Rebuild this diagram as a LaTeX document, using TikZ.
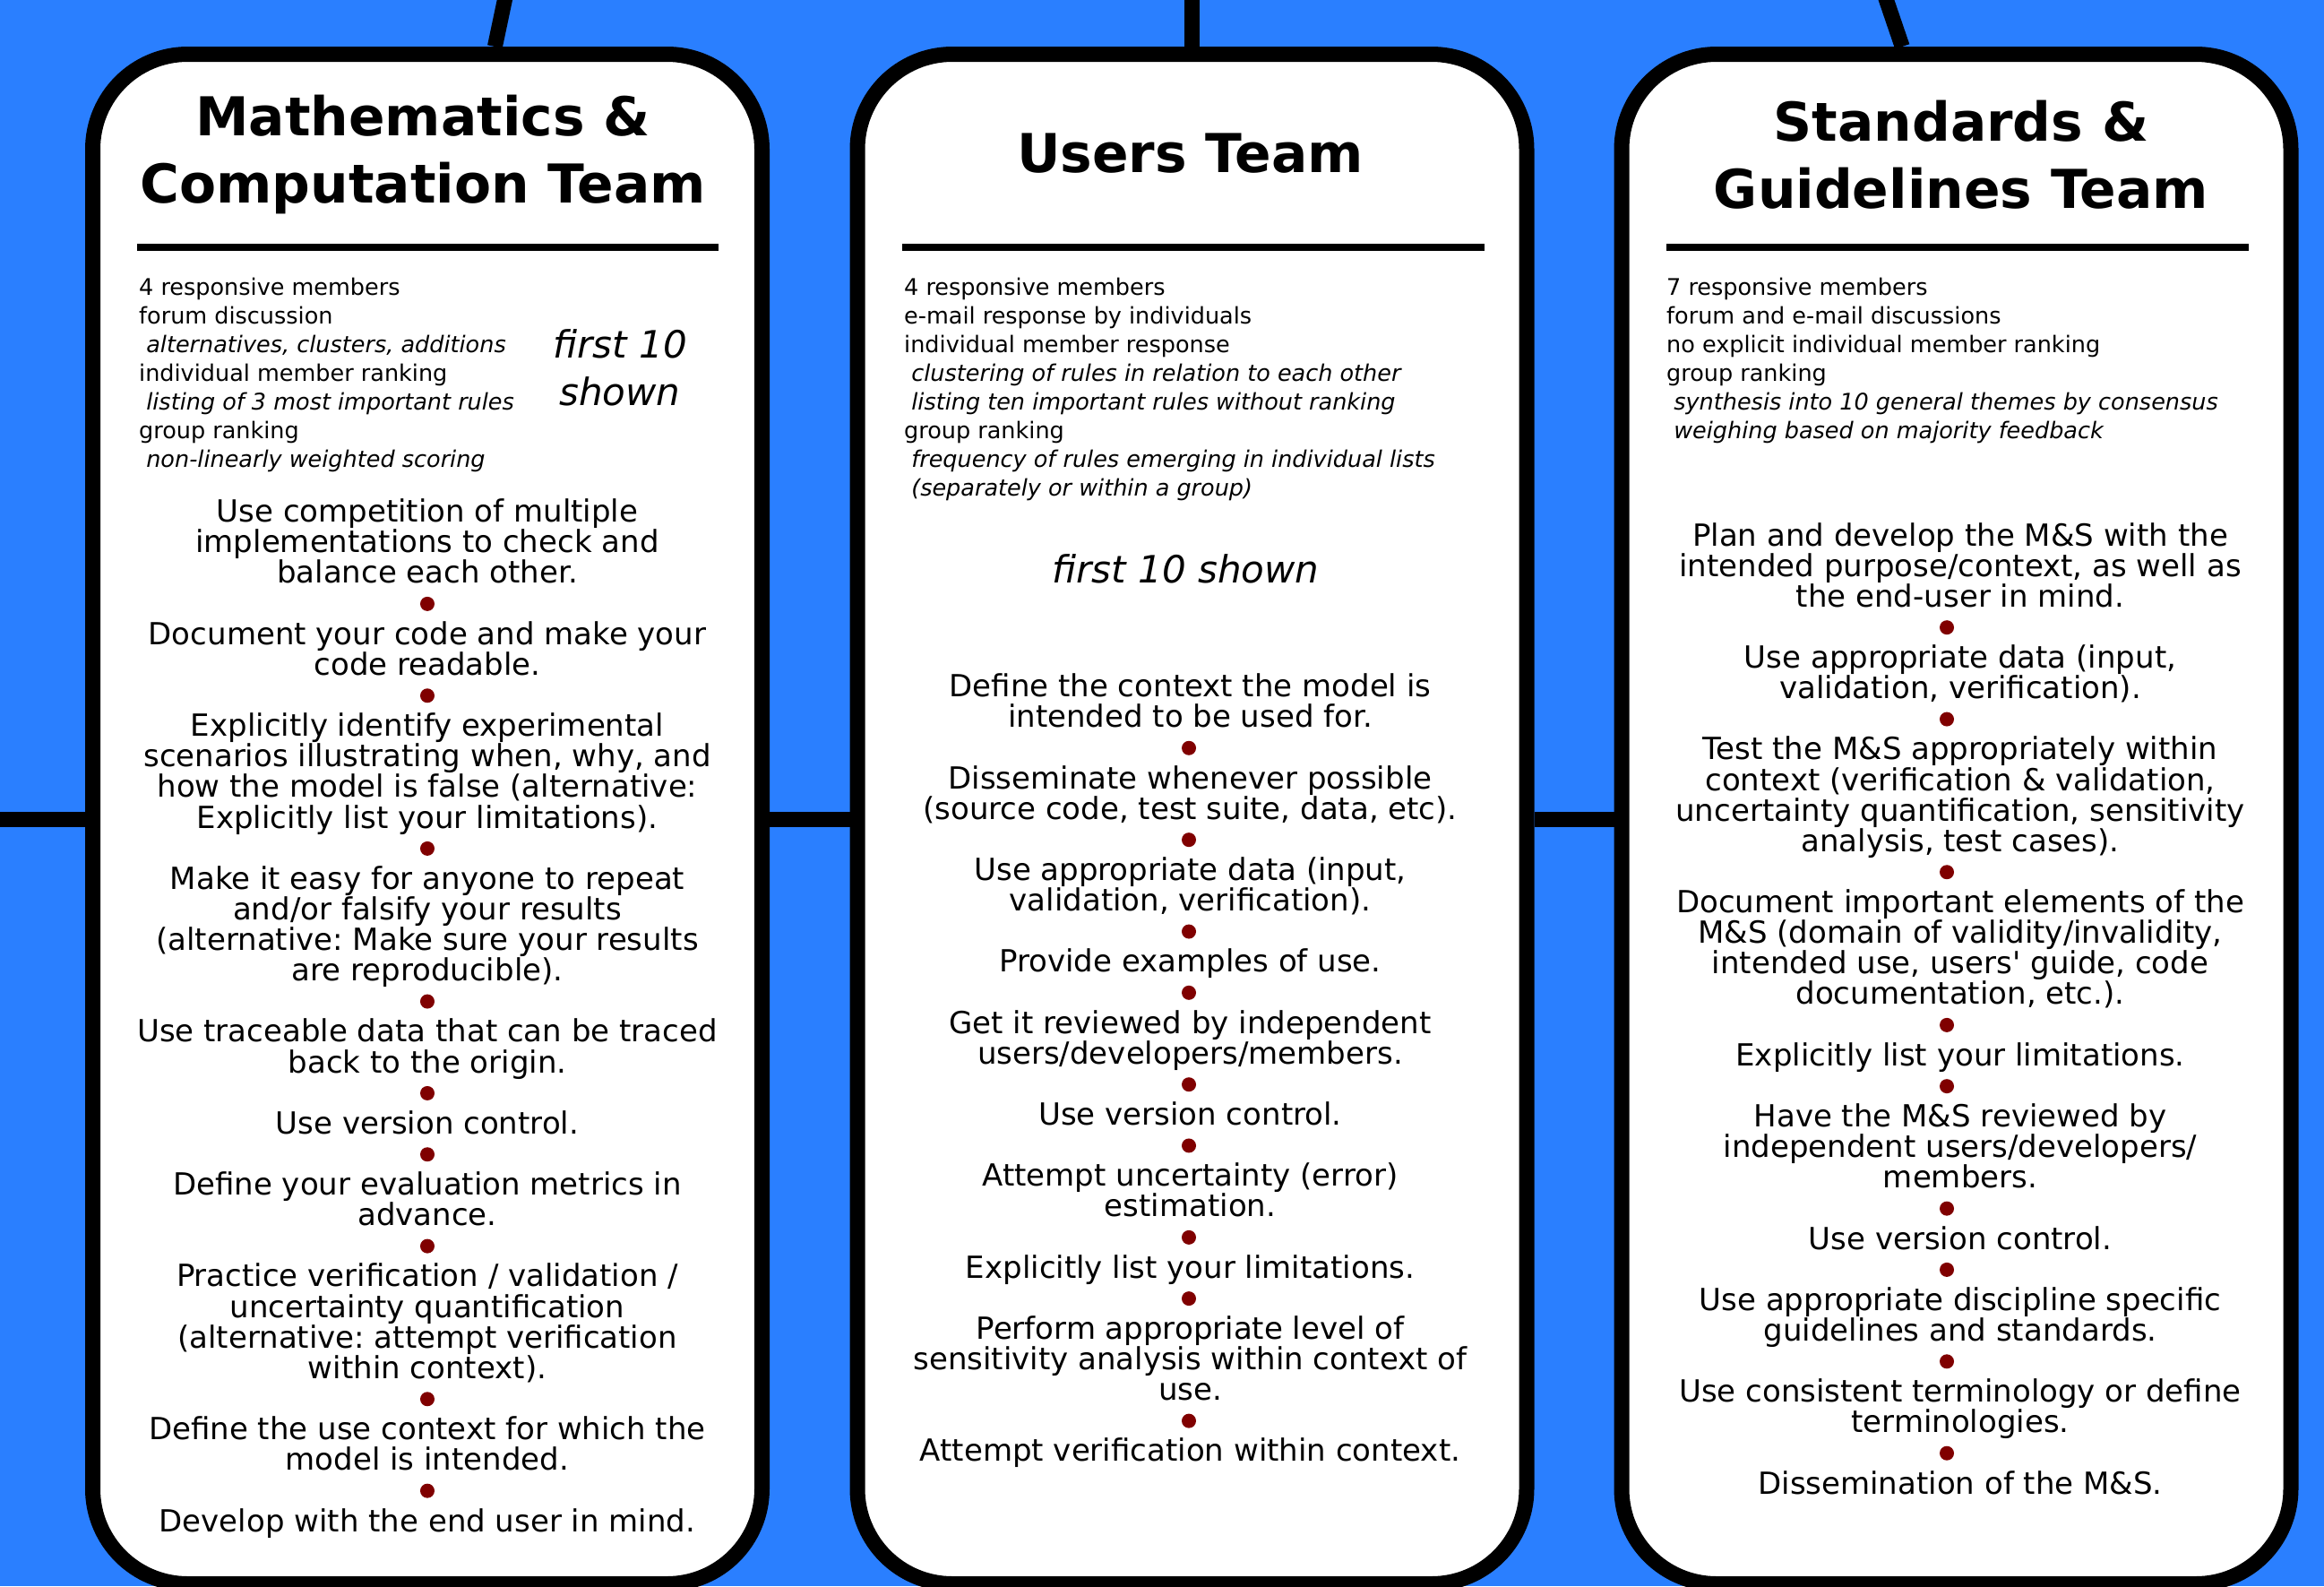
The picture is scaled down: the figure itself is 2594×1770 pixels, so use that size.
\documentclass[tikz,border=0pt]{standalone}
\usepackage{fontspec}
\setmainfont{DejaVu Sans}
\frenchspacing
\definecolor{bgblue}{HTML}{2A7FFF}
\definecolor{dotred}{HTML}{800000}
\newcommand\ist{\rule{0pt}{32pt}}
\newcommand\tst{\rule{0pt}{56pt}}
\newcommand\sst{\rule{0pt}{24pt}}
\newcommand\fst{\rule{0pt}{40pt}}
\newcommand\ind{\hspace*{0.318em}}
\def\Pa{582.5}
\def\Pb{777.5}
\def\Pc{608.8}
\def\ps{34.13}
\tikzset{
  panel/.style={draw=black, line width=17pt, fill=white, rounded corners=106pt,
    minimum width=747pt, minimum height=1707pt, inner sep=0pt},
  conn/.style={draw=black, line width=17pt},
  hrule/.style={draw=black, line width=8pt},
  ttl/.style={font=\bfseries\fontsize{59.8}{75}\selectfont, align=center, anchor=north, inner sep=0pt},
  info/.style={font=\fontsize{25.5}{32}\selectfont, align=left, anchor=north west, inner sep=0pt},
  itm/.style={font=\fontsize{34}{34.13}\selectfont, align=center, anchor=north, inner sep=0pt},
  tenn/.style={font=\itshape\fontsize{42}{53}\selectfont, align=center, anchor=north, inner sep=0pt},
  dotn/.style={circle, fill=dotred, inner sep=0pt, minimum size=16pt}
}
\begin{document}
\begin{tikzpicture}[x=1pt,y=-1pt]
\useasboundingbox (0,0) rectangle (2594,1770);
\clip (0,0) rectangle (2594,1770);
\fill[bgblue] (0,0) rectangle (2594,1770);

% connector ends outside the picture
\coordinate (p1) at (576,-60);
\coordinate (p2) at (1330.5,-60);
\coordinate (p3) at (2085,-60);
\coordinate (pl) at (-60,914);

% panels
\node[panel] (b1) at (477,914) {};
\node[panel] (b2) at (1330.5,914) {};
\node[panel] (b3) at (2183.5,914) {};

% connectors
\draw[conn] (p1) -- (b1.85.2);
\draw[conn] (p2) -- (b2.north);
\draw[conn] (p3) -- (b3.94.95);
\draw[conn] (pl) -- (b1.west);
\draw[conn] (b1.east) -- (b2.west);
\draw[conn] (b2.east) -- (b3.west);

% titles
\node[ttl] (t1) at (472,95) {\tst Mathematics \&\\Computation Team};
\node[ttl] (t2) at (1328.5,136.5) {\tst Users Team};
\node[ttl] (t3) at (2189,101) {\tst Standards \&\\Guidelines Team};

\draw[hrule] (153,276) -- (802,276);
\draw[hrule] (1007,276) -- (1657,276);
\draw[hrule] (1860,276) -- (2510,276);

% info blocks
\node[info] (i1) at (155,305) {\sst 4 responsive members\\
forum discussion\\
\ind\textit{alternatives, clusters, additions}\\
individual member ranking\\
\ind\textit{listing of 3 most important rules}\\
group ranking\\
\ind\textit{non-linearly weighted scoring}};
\node[info] (i2) at (1009,305) {\sst 4 responsive members\\
e-mail response by individuals\\
individual member response\\
\ind\textit{clustering of rules in relation to each other}\\
\ind\textit{listing ten important rules without ranking}\\
group ranking\\
\ind\textit{frequency of rules emerging in individual lists}\\
\ind\textit{(separately or within a group)}};
\node[info] (i3) at (1860,305) {\sst 7 responsive members\\
forum and e-mail discussions\\
no explicit individual member ranking\\
group ranking\\
\ind\textit{synthesis into 10 general themes by consensus}\\
\ind\textit{weighing based on majority feedback}};

\node[tenn] (f1) at (692,359) {\fst first 10\\shown};
\node[tenn] (f2) at (1323.5,610.7) {\fst first 10 shown};

% column 1
\node[itm] (m1a) at (477,\Pa+0*\ps-32) {\ist Use competition of multiple\\implementations to check and\\balance each other.};
\node[dotn] (d1a) at (477,\Pa+3*\ps-11) {};
\node[itm] (m1b) at (477,\Pa+4*\ps-32) {\ist Document your code and make your\\code readable.};
\node[dotn] (d1b) at (477,\Pa+6*\ps-11) {};
\node[itm] (m1c) at (477,\Pa+7*\ps-32) {\ist Explicitly identify experimental\\scenarios illustrating when, why, and\\how the model is false (alternative:\\Explicitly list your limitations).};
\node[dotn] (d1c) at (477,\Pa+11*\ps-11) {};
\node[itm] (m1d) at (477,\Pa+12*\ps-32) {\ist Make it easy for anyone to repeat\\and/or falsify your results\\(alternative: Make sure your results\\are reproducible).};
\node[dotn] (d1d) at (477,\Pa+16*\ps-11) {};
\node[itm] (m1e) at (477,\Pa+17*\ps-32) {\ist Use traceable data that can be traced\\back to the origin.};
\node[dotn] (d1e) at (477,\Pa+19*\ps-11) {};
\node[itm] (m1f) at (477,\Pa+20*\ps-32) {\ist Use version control.};
\node[dotn] (d1f) at (477,\Pa+21*\ps-11) {};
\node[itm] (m1g) at (477,\Pa+22*\ps-32) {\ist Define your evaluation metrics in\\advance.};
\node[dotn] (d1g) at (477,\Pa+24*\ps-11) {};
\node[itm] (m1h) at (477,\Pa+25*\ps-32) {\ist Practice verification / validation /\\uncertainty quantification\\(alternative: attempt verification\\within context).};
\node[dotn] (d1h) at (477,\Pa+29*\ps-11) {};
\node[itm] (m1i) at (477,\Pa+30*\ps-32) {\ist Define the use context for which the\\model is intended.};
\node[dotn] (d1i) at (477,\Pa+32*\ps-11) {};
\node[itm] (m1j) at (477,\Pa+33*\ps-32) {\ist Develop with the end user in mind.};

% column 2
\node[itm] (m2a) at (1328.5,\Pb+0*\ps-32) {\ist Define the context the model is\\intended to be used for.};
\node[dotn] (d2a) at (1327,\Pb+2*\ps-11) {};
\node[itm] (m2b) at (1328.5,\Pb+3*\ps-32) {\ist Disseminate whenever possible\\(source code, test suite, data, etc).};
\node[dotn] (d2b) at (1327,\Pb+5*\ps-11) {};
\node[itm] (m2c) at (1328.5,\Pb+6*\ps-32) {\ist Use appropriate data (input,\\validation, verification).};
\node[dotn] (d2c) at (1327,\Pb+8*\ps-11) {};
\node[itm] (m2d) at (1328.5,\Pb+9*\ps-32) {\ist Provide examples of use.};
\node[dotn] (d2d) at (1327,\Pb+10*\ps-11) {};
\node[itm] (m2e) at (1328.5,\Pb+11*\ps-32) {\ist Get it reviewed by independent\\users/developers/members.};
\node[dotn] (d2e) at (1327,\Pb+13*\ps-11) {};
\node[itm] (m2f) at (1328.5,\Pb+14*\ps-32) {\ist Use version control.};
\node[dotn] (d2f) at (1327,\Pb+15*\ps-11) {};
\node[itm] (m2g) at (1328.5,\Pb+16*\ps-32) {\ist Attempt uncertainty (error)\\estimation.};
\node[dotn] (d2g) at (1327,\Pb+18*\ps-11) {};
\node[itm] (m2h) at (1328.5,\Pb+19*\ps-32) {\ist Explicitly list your limitations.};
\node[dotn] (d2h) at (1327,\Pb+20*\ps-11) {};
\node[itm] (m2i) at (1328.5,\Pb+21*\ps-32) {\ist Perform appropriate level of\\sensitivity analysis within context of\\use.};
\node[dotn] (d2i) at (1327,\Pb+24*\ps-11) {};
\node[itm] (m2j) at (1328.5,\Pb+25*\ps-32) {\ist Attempt verification within context.};

% column 3
\node[itm] (m3a) at (2188,\Pc+0*\ps-32) {\ist Plan and develop the M\&S with the\\intended purpose/context, as well as\\the end-user in mind.};
\node[dotn] (d3a) at (2173,\Pc+3*\ps-11) {};
\node[itm] (m3b) at (2188,\Pc+4*\ps-32) {\ist Use appropriate data (input,\\validation, verification).};
\node[dotn] (d3b) at (2173,\Pc+6*\ps-11) {};
\node[itm] (m3c) at (2188,\Pc+7*\ps-32) {\ist Test the M\&S appropriately within\\context (verification \& validation,\\uncertainty quantification, sensitivity\\analysis, test cases).};
\node[dotn] (d3c) at (2173,\Pc+11*\ps-11) {};
\node[itm] (m3d) at (2188,\Pc+12*\ps-32) {\ist Document important elements of the\\M\&S (domain of validity/invalidity,\\intended use, users\textquotesingle\ guide, code\\documentation, etc.).};
\node[dotn] (d3d) at (2173,\Pc+16*\ps-11) {};
\node[itm] (m3e) at (2188,\Pc+17*\ps-32) {\ist Explicitly list your limitations.};
\node[dotn] (d3e) at (2173,\Pc+18*\ps-11) {};
\node[itm] (m3f) at (2188,\Pc+19*\ps-32) {\ist Have the M\&S reviewed by\\independent users/developers/\\members.};
\node[dotn] (d3f) at (2173,\Pc+22*\ps-11) {};
\node[itm] (m3g) at (2188,\Pc+23*\ps-32) {\ist Use version control.};
\node[dotn] (d3g) at (2173,\Pc+24*\ps-11) {};
\node[itm] (m3h) at (2188,\Pc+25*\ps-32) {\ist Use appropriate discipline specific\\guidelines and standards.};
\node[dotn] (d3h) at (2173,\Pc+27*\ps-11) {};
\node[itm] (m3i) at (2188,\Pc+28*\ps-32) {\ist Use consistent terminology or define\\terminologies.};
\node[dotn] (d3i) at (2173,\Pc+30*\ps-11) {};
\node[itm] (m3j) at (2188,\Pc+31*\ps-32) {\ist Dissemination of the M\&S.};
\end{tikzpicture}
\end{document}
